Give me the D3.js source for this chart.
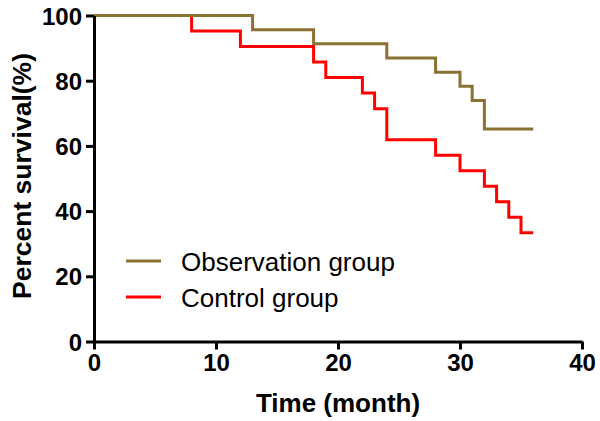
<!DOCTYPE html>
<html>
<head>
<meta charset="utf-8">
<script src="https://cdn.jsdelivr.net/npm/d3@7"></script>
<style>
  html, body { margin: 0; padding: 0; background: #fff; }
  svg { display: block; }
</style>
</head>
<body>
<svg id="chart" width="600" height="421"></svg>
<script>
const obsTimes = [0, 13, 18, 24, 28, 30, 31, 32, 36];
const obsSurv  = [100, 95.65, 91.30, 86.96, 82.61, 78.26, 73.91, 65.22, 65.22];
const ctlTimes = [0, 8, 12, 18, 19, 22, 23, 24, 28, 30, 32, 33, 34, 35, 36];
const ctlSurv  = [100, 95.24, 90.48, 85.71, 80.95, 76.19, 71.43, 61.90, 57.14, 52.38, 47.62, 42.86, 38.10, 33.33, 33.33];
const seriesNames = ["Observation group", "Control group"];
const xTicks = [0, 10, 20, 30, 40];
const yTicks = [0, 20, 40, 60, 80, 100];

const colors = ["#8c7232", "#ff0000"];
const svg = d3.select("#chart");
const x = d3.scaleLinear().domain([0, 40]).range([94, 582]);
const y = d3.scaleLinear().domain([0, 100]).range([341.5, 15.5]);

const series = [
  obsTimes.map((t, i) => [t, obsSurv[i]]),
  ctlTimes.map((t, i) => [t, ctlSurv[i]])
];

const line = d3.line().x(d => x(d[0])).y(d => y(d[1])).curve(d3.curveStepAfter);

[1, 0].forEach(i => {
  svg.append("path")
    .attr("d", line(series[i]))
    .attr("fill", "none")
    .attr("stroke", colors[i])
    .attr("stroke-width", 3);
});

const xAxis = svg.append("g").attr("transform", `translate(0,${y(0)})`)
  .call(d3.axisBottom(x).tickValues(xTicks).tickSize(8).tickSizeOuter(0));
const yAxis = svg.append("g").attr("transform", `translate(${x(0)},0)`)
  .call(d3.axisLeft(y).tickValues(yTicks).tickSize(8).tickSizeOuter(0));

[xAxis, yAxis].forEach(g => {
  g.select(".domain").attr("stroke", "#000").attr("stroke-width", 3);
  g.selectAll(".tick line").attr("stroke", "#000").attr("stroke-width", 3);
  g.selectAll(".tick text")
    .attr("fill", "#000")
    .style("font-family", "Liberation Sans, Arial, sans-serif")
    .style("font-weight", "bold")
    .style("font-size", "24px");
});
xAxis.selectAll(".tick text").attr("y", 12).attr("dy", "0.71em");
yAxis.selectAll(".tick text").attr("x", -12).attr("dy", "0.36em");

svg.append("text")
  .attr("x", 338).attr("y", 412)
  .attr("text-anchor", "middle")
  .style("font-family", "Liberation Sans, Arial, sans-serif")
  .style("font-weight", "bold")
  .style("font-size", "26px")
  .text("Time (month)");

svg.append("text")
  .attr("transform", "translate(31,176) rotate(-90)")
  .attr("text-anchor", "middle")
  .style("font-family", "Liberation Sans, Arial, sans-serif")
  .style("font-weight", "bold")
  .style("font-size", "26.5px")
  .text("Percent survival(%)");

const legY = [261, 297];
seriesNames.forEach((name, i) => {
  svg.append("line")
    .attr("x1", 126).attr("x2", 161)
    .attr("y1", legY[i]).attr("y2", legY[i])
    .attr("stroke", colors[i]).attr("stroke-width", 3);
  svg.append("text")
    .attr("x", 181).attr("y", legY[i] + 10)
    .style("font-family", "Liberation Sans, Arial, sans-serif")
    .style("font-size", "26px")
    .attr("fill", "#000")
    .text(name);
});
</script>
</body>
</html>
